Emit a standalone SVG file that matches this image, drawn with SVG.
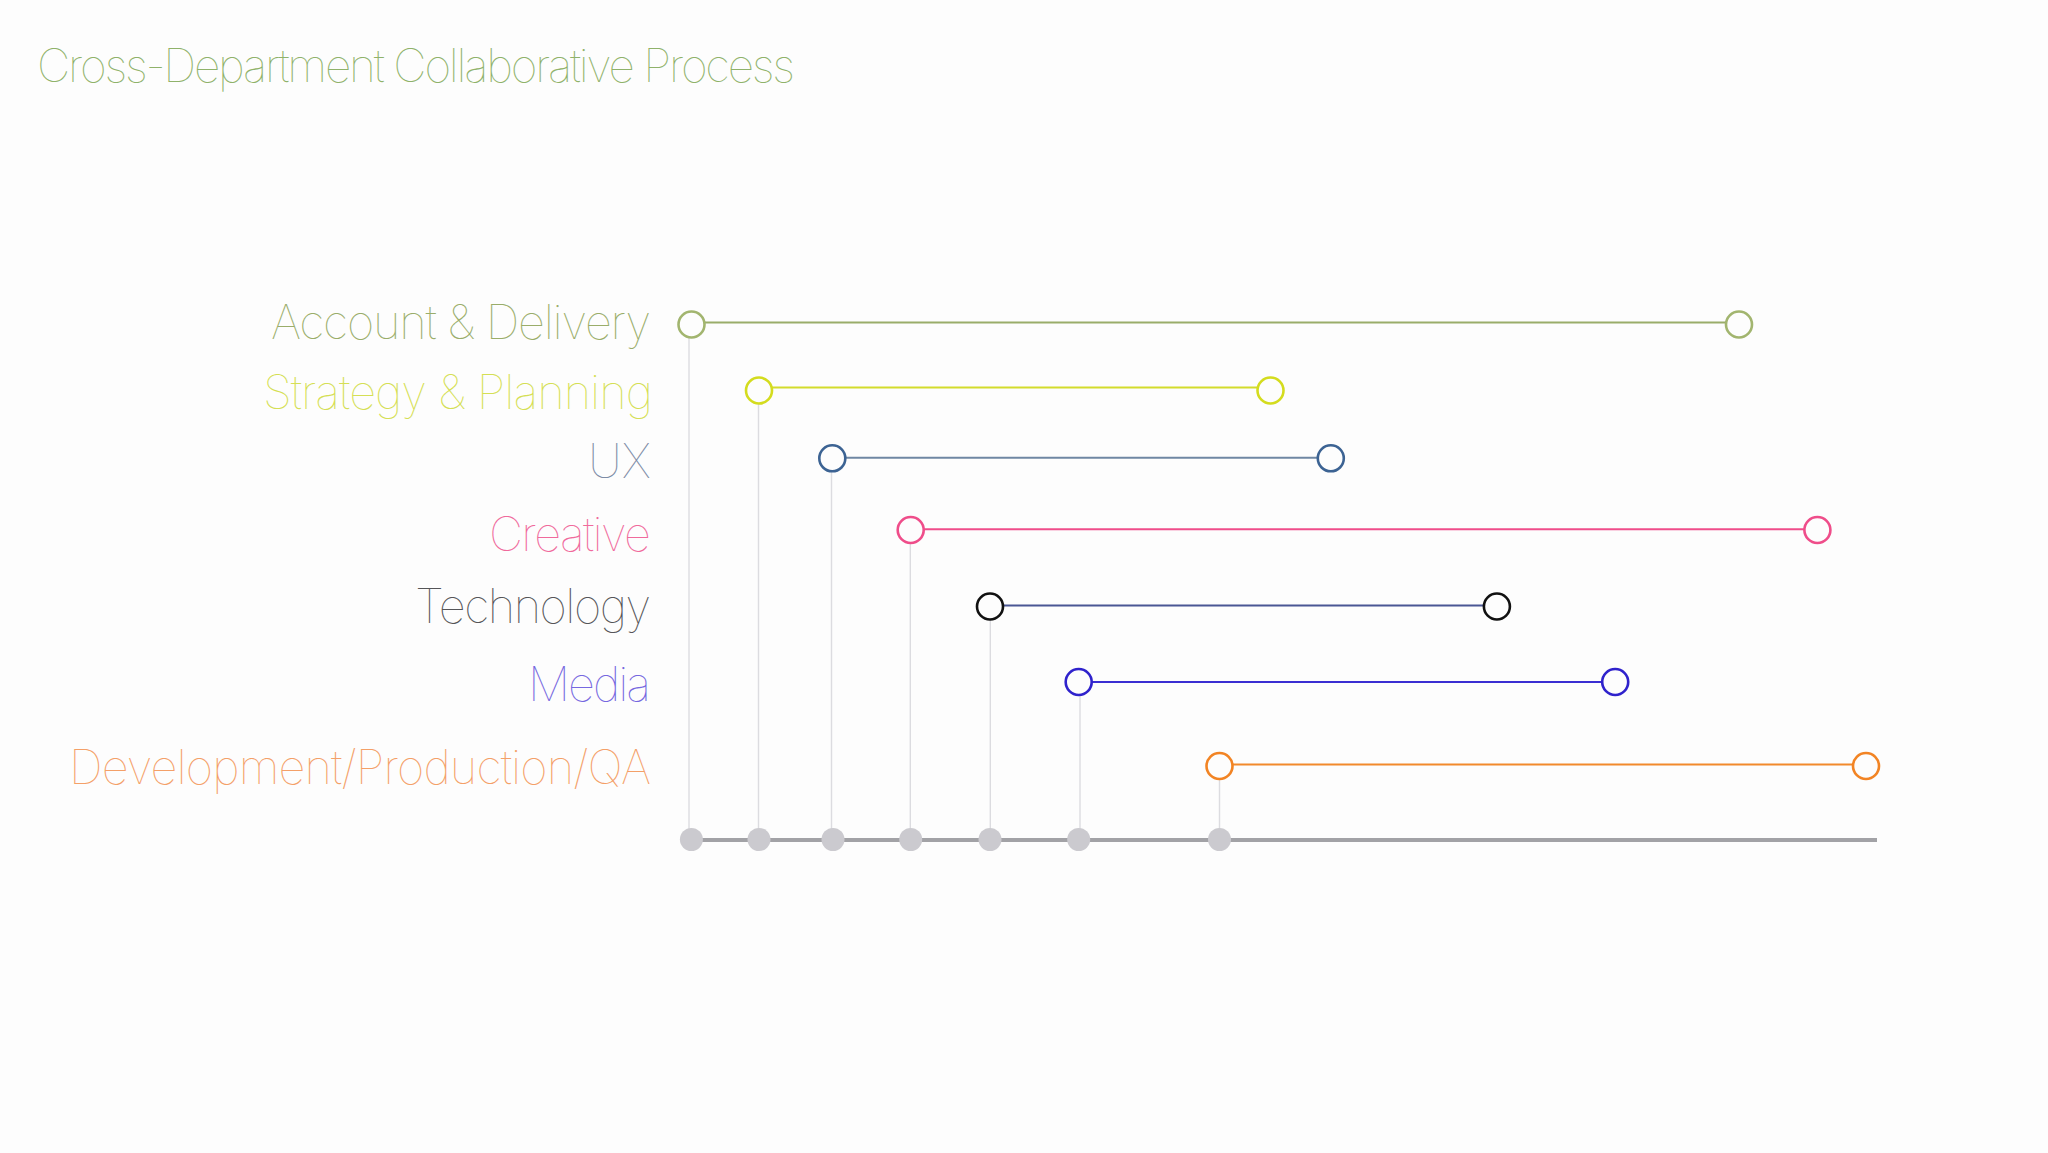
<svg xmlns="http://www.w3.org/2000/svg" width="2048" height="1153" viewBox="0 0 2048 1153">
  <style>
    text { font-family: "Inter", "Roboto", "Liberation Sans", sans-serif; font-weight: 100; }
    .lbl { font-size: 47px; text-anchor: end; }
    .bar { stroke-width: 2; fill: none; }
    .end { fill: #fdfdfd; stroke-width: 2.6; }
    .drop { stroke: #dcdce0; stroke-width: 1.4; fill: none; }
    .dot { fill: #cbcacf; }
  </style>
  <rect x="0" y="0" width="2048" height="1153" fill="#fdfdfd"/>
  <text id="title" x="37" y="82" font-size="46" fill="#8fb26a" textLength="758">Cross-Department Collaborative Process</text>

  <g id="connectors">
    <line class="drop" x1="689" y1="338" x2="689" y2="840"/>
    <line class="drop" x1="758.5" y1="404" x2="758.5" y2="840"/>
    <line class="drop" x1="831.5" y1="472" x2="831.5" y2="840"/>
    <line class="drop" x1="910.3" y1="544" x2="910.3" y2="840"/>
    <line class="drop" x1="990.3" y1="620" x2="990.3" y2="840"/>
    <line class="drop" x1="1080" y1="696" x2="1080" y2="840"/>
    <line class="drop" x1="1219.5" y1="780" x2="1219.5" y2="840"/>
  </g>

  <g id="axis">
    <line x1="691" y1="840" x2="1877" y2="840" stroke="#a2a2a6" stroke-width="4"/>
    <circle class="dot" cx="691.4" cy="839.5" r="11.5"/>
    <circle class="dot" cx="759" cy="839.5" r="11.5"/>
    <circle class="dot" cx="833" cy="839.5" r="11.5"/>
    <circle class="dot" cx="910.7" cy="839.5" r="11.5"/>
    <circle class="dot" cx="990" cy="839.5" r="11.5"/>
    <circle class="dot" cx="1078.7" cy="839.5" r="11.5"/>
    <circle class="dot" cx="1219.5" cy="839.5" r="11.5"/>
  </g>

  <g id="account-delivery">
    <text class="lbl" x="651" y="339" fill="#9aad6a" textLength="380">Account &amp; Delivery</text>
    <line class="bar" x1="704" y1="322.5" x2="1726" y2="322.5" stroke="#9aad6a"/>
    <circle class="end" cx="691.5" cy="324.5" r="13" stroke="#a2b56f"/>
    <circle class="end" cx="1739" cy="324.5" r="13" stroke="#a2b56f"/>
  </g>

  <g id="strategy-planning">
    <text class="lbl" x="653" y="409" fill="#d5df55" textLength="390">Strategy &amp; Planning</text>
    <line class="bar" x1="772" y1="387.5" x2="1258" y2="387.5" stroke="#d3dc2c"/>
    <circle class="end" cx="759" cy="390.5" r="13" stroke="#d4dc1e"/>
    <circle class="end" cx="1270.5" cy="390.5" r="13" stroke="#d4dc1e"/>
  </g>

  <g id="ux">
    <text class="lbl" x="651" y="478" fill="#7d8ca6">UX</text>
    <line class="bar" x1="845" y1="457.7" x2="1318" y2="457.7" stroke="#6f87a3"/>
    <circle class="end" cx="832.3" cy="458.3" r="13" stroke="#3c6393"/>
    <circle class="end" cx="1330.8" cy="458.3" r="13" stroke="#3c6393"/>
  </g>

  <g id="creative">
    <text class="lbl" x="651" y="551" fill="#f06a9c" textLength="162">Creative</text>
    <line class="bar" x1="923" y1="529.3" x2="1805" y2="529.3" stroke="#ef4d8a"/>
    <circle class="end" cx="910.7" cy="530" r="13" stroke="#ef4d8a"/>
    <circle class="end" cx="1817.4" cy="530" r="13" stroke="#ef4d8a"/>
  </g>

  <g id="technology">
    <text class="lbl" x="651" y="623" fill="#555558" textLength="236">Technology</text>
    <line class="bar" x1="1003" y1="605.5" x2="1484" y2="605.5" stroke="#4a5794"/>
    <circle class="end" cx="990" cy="606.5" r="13" stroke="#111111"/>
    <circle class="end" cx="1496.9" cy="606.5" r="13" stroke="#111111"/>
  </g>

  <g id="media">
    <text class="lbl" x="651" y="701" fill="#7668e0" textLength="123">Media</text>
    <line class="bar" x1="1091" y1="682" x2="1603" y2="682" stroke="#3a2ed2"/>
    <circle class="end" cx="1078.7" cy="682" r="13" stroke="#2f22cc"/>
    <circle class="end" cx="1615.2" cy="682" r="13" stroke="#2f22cc"/>
  </g>

  <g id="development-production-qa">
    <text class="lbl" x="651" y="784" fill="#f4a068" textLength="582">Development/Production/QA</text>
    <line class="bar" x1="1232" y1="764.5" x2="1853" y2="764.5" stroke="#f28a2c"/>
    <circle class="end" cx="1219.5" cy="766" r="13" stroke="#f28424"/>
    <circle class="end" cx="1866" cy="766" r="13" stroke="#f28424"/>
  </g>
</svg>
